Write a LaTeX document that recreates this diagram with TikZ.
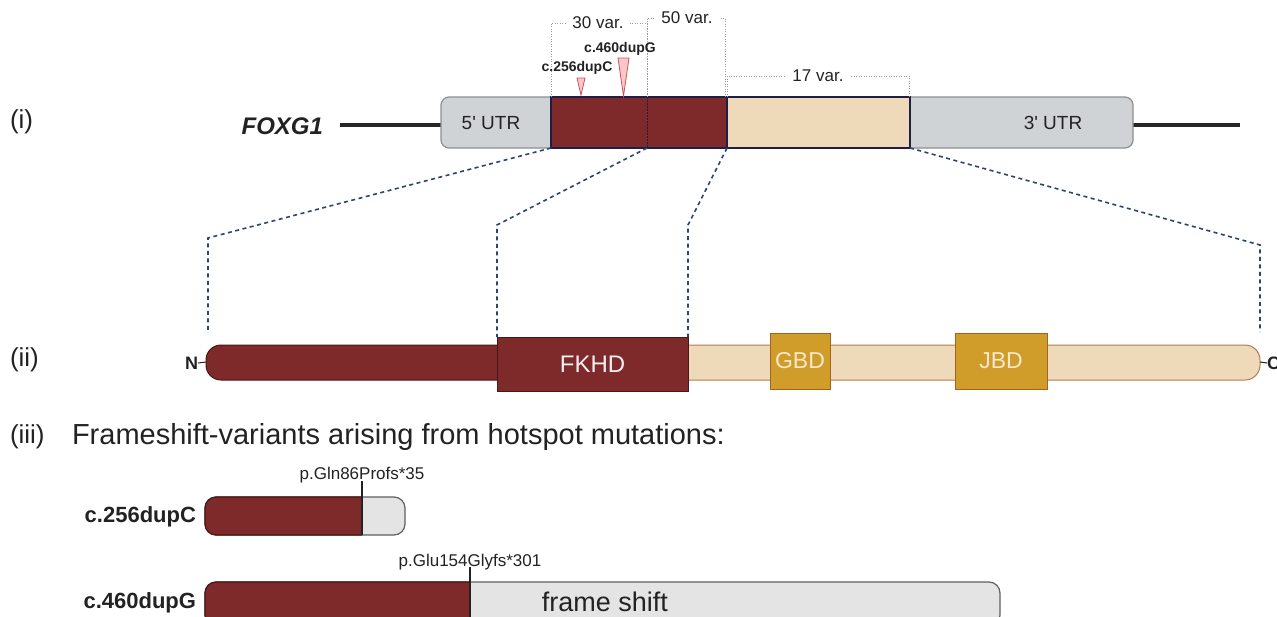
\documentclass[tikz,border=0pt]{standalone}
\usepackage{fontspec}
\setmainfont{Liberation Sans}
\newcommand\fsz[1]{\fontsize{#1}{#1}\selectfont}
\definecolor{dred}{HTML}{7E2A2A}
\definecolor{dredb}{HTML}{4A1616}
\definecolor{beige}{HTML}{EED9B9}
\definecolor{beigeb}{HTML}{B07C52}
\definecolor{utrg}{HTML}{D0D3D6}
\definecolor{utrb}{HTML}{8C8F92}
\definecolor{navy}{HTML}{1E1E46}
\definecolor{gold}{HTML}{D09C2A}
\definecolor{goldb}{HTML}{A5641E}
\definecolor{goldt}{HTML}{F5E8CC}
\definecolor{conn}{HTML}{2B4570}
\definecolor{brk}{HTML}{9A9A9A}
\definecolor{trif}{HTML}{F8C8C8}
\definecolor{trib}{HTML}{D0505A}
\definecolor{vg}{HTML}{E4E4E4}
\definecolor{vgb}{HTML}{5F5F5F}
\definecolor{txt}{HTML}{222222}
\tikzset{
  every node/.style={inner sep=0pt, outer sep=0pt, text=txt},
  utrbox/.style={draw=utrb, fill=utrg, line width=1.2pt, rounded corners=8pt},
  cdsbox/.style={draw=navy, fill=dred, line width=1.3pt, anchor=north west, minimum height=51pt},
  brack/.style={draw=brk, line width=0.7pt, dash pattern=on 1pt off 1.5pt},
  brlabel/.style={fill=white, inner xsep=6pt, font=\fsz{17}},
  tri/.style={draw=trib, fill=trif, line width=0.8pt, line join=miter},
  connector/.style={draw=conn, line width=1.6pt, dash pattern=on 4pt off 3.5pt},
  nbar/.style={draw=dredb, fill=dred, line width=1pt, rounded corners=15pt},
  cbar/.style={draw=beigeb, fill=beige, line width=1pt, rounded corners=15pt},
  dombox/.style={draw=goldb, fill=gold, line width=1pt, anchor=north west, minimum height=56pt, font=\fsz{23}, text=goldt},
  vbar/.style={draw=vgb, fill=vg, line width=1.2pt, rounded corners=11pt},
  vred/.style={draw=dredb, fill=dred, line width=1.2pt, rounded corners=11pt},
  roman/.style={anchor=west, font=\fsz{26}},
}
\begin{document}
\begin{tikzpicture}[x=1pt,y=-1pt]
\useasboundingbox (0,0) rectangle (1277,616);

% ---------- (i) gene ----------
\node[roman] (li) at (10,122) {(i)};
\coordinate (gl) at (340,125);
\coordinate (gr) at (1240,125);
\draw[line width=4pt, color=black!85] (gl) -- (gr);
\node[anchor=east, font=\fsz{24}\bfseries\itshape] (foxg1) at (323,126) {FOXG1};

\draw[utrbox] (441,97) rectangle (570,148);
\draw[utrbox] (890,97) rectangle (1133,148);
\node[font=\fsz{19}] (utr5) at (491,123) {5\textquotesingle{} UTR};
\node[font=\fsz{19}] (utr3) at (1053,123) {3\textquotesingle{} UTR};

\node[cdsbox, minimum width=176pt] (cds) at (551,97) {};
\node[cdsbox, fill=beige, minimum width=183pt] (ctd) at (727,97) {};
\coordinate (spt) at (647,97);
\coordinate (spb) at (647,148);
\draw[navy, line width=1pt, dash pattern=on 1.5pt off 1.5pt] (spt) -- (spb);

% brackets
\coordinate (b30t) at (647,23);
\coordinate (b50t) at (725,18);
\coordinate (b50b) at (725,97);
\coordinate (b17t) at (909,76);
\coordinate (b17b) at (909,97);
\draw[brack] (cds.north west) |- (b30t) -- (spt);
\draw[brack] (spt) |- (b50t) -- (b50b);
\draw[brack] (ctd.north west) |- (b17t) -- (b17b);
\node[brlabel] (v30) at (598,23) {30 var.};
\node[brlabel] (v50) at (687,18) {50 var.};
\node[brlabel] (v17) at (818,76) {17 var.};

% hotspot triangles
\coordinate (t1a) at (577,78); \coordinate (t1b) at (585,78); \coordinate (t1c) at (581,95);
\coordinate (t2a) at (618,58); \coordinate (t2b) at (629,58); \coordinate (t2c) at (623.5,96);
\draw[tri] (t1a) -- (t1b) -- (t1c) -- cycle;
\draw[tri] (t2a) -- (t2b) -- (t2c) -- cycle;
\node[font=\fsz{14}\bfseries] (m1) at (577,68) {c.256dupC};
\node[font=\fsz{14}\bfseries] (m2) at (620,49) {c.460dupG};

% ---------- (ii) protein ----------
\node[roman] (lii) at (10,360) {(ii)};
\draw[nbar] (206,345) rectangle (520,380);
\draw[cbar] (670,345) rectangle (1260,380);
\node[cdsbox, draw=dredb, line width=1pt, minimum width=191pt, minimum height=54pt, font=\fsz{24}, text=white!92!dred] (fkhd) at (497,337) {FKHD};
\node[dombox, minimum width=60pt] (gbd) at (770,333) {GBD};
\node[dombox, minimum width=92pt] (jbd) at (955,333) {JBD};
\node[font=\fsz{18}\bfseries, anchor=east] (nterm) at (198,363) {N};
\coordinate (nb) at (206,362);
\draw[line width=1pt, txt] (nterm.east) -- (nb);
\coordinate (cb) at (1260,362);
\node[font=\fsz{18}\bfseries, anchor=west] (cterm) at (1267,363) {C};
\draw[line width=1pt, txt] (cb) -- (cterm.west);

% dashed zoom connectors
\coordinate (k1) at (208,238); \coordinate (e1) at (208,332);
\coordinate (k2) at (497,225);
\coordinate (k3) at (688,225);
\coordinate (k4) at (1260,245); \coordinate (e4) at (1260,332);
\draw[connector] (cds.south west) -- (k1) -- (e1);
\draw[connector] (spb) -- (k2) -- (fkhd.north west);
\draw[connector] (ctd.south west) -- (k3) -- (fkhd.north east);
\draw[connector] (ctd.south east) -- (k4) -- (e4);

% ---------- (iii) variants ----------
\node[roman] (liii) at (10,437) {(iii)};
\node[anchor=west, font=\fsz{29}] (title) at (72,437) {Frameshift-variants arising from hotspot mutations:};

% c.256dupC
\node[anchor=east, font=\fsz{22}\bfseries] (r1) at (196,517) {c.256dupC};
\draw[vbar] (205,497) rectangle (405,535);
\begin{scope}
\clip (0,0) rectangle (362,616);
\draw[vred] (205,497) rectangle (405,535);
\end{scope}
\coordinate (p1t) at (362,481); \coordinate (p1b) at (362,535);
\draw[line width=1.2pt, txt] (p1t) -- (p1b);
\node[font=\fsz{17}] (p1) at (362,475) {p.Gln86Profs*35};

% c.460dupG
\node[anchor=east, font=\fsz{22}\bfseries] (r2) at (196,603) {c.460dupG};
\draw[vbar] (205,582) rectangle (1000,626);
\begin{scope}
\clip (0,0) rectangle (470,616);
\draw[vred] (205,582) rectangle (1000,626);
\end{scope}
\coordinate (p2t) at (470,567); \coordinate (p2b) at (470,626);
\draw[line width=1.2pt, txt] (p2t) -- (p2b);
\node[font=\fsz{17}] (p2) at (470,562) {p.Glu154Glyfs*301};
\node[font=\fsz{27}] (fs) at (605,602) {frame shift};
\end{tikzpicture}
\end{document}
